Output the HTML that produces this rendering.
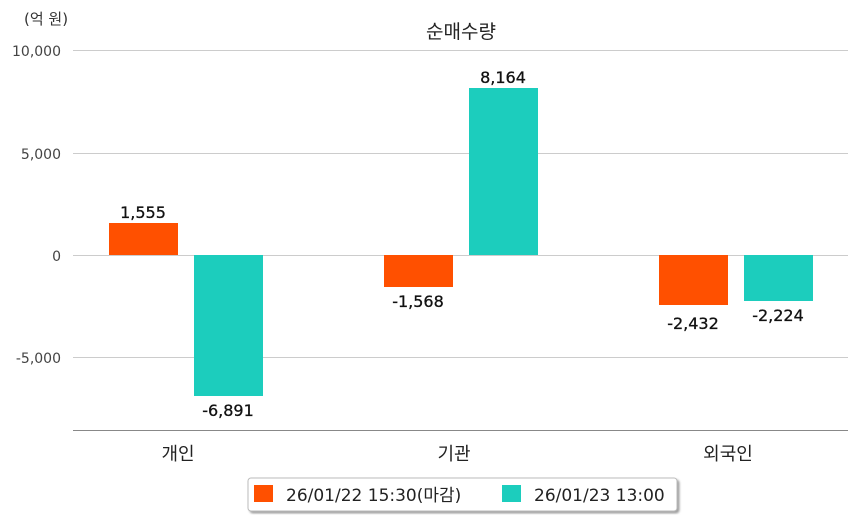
<!DOCTYPE html>
<html><head><meta charset="utf-8"><style>
body{margin:0;background:#fff}
svg text{font-family:"DejaVu Sans","Noto Sans CJK KR",sans-serif}
</style></head><body>
<svg width="858" height="520" xmlns="http://www.w3.org/2000/svg">
<defs><filter id="sh"><feDropShadow dx="2" dy="2" stdDeviation="1" flood-color="#888" flood-opacity="0.8"/></filter></defs>
<text x="24" y="24" font-size="15" fill="#333">(억 원)</text>
<text x="461" y="38" font-size="19" text-anchor="middle" fill="#222">순매수량</text>
<g stroke="#ccc" stroke-width="1">
<line x1="73" y1="50.5" x2="848" y2="50.5"/>
<line x1="73" y1="153.5" x2="848" y2="153.5"/>
<line x1="73" y1="255.5" x2="848" y2="255.5"/>
<line x1="73" y1="357.5" x2="848" y2="357.5"/>
</g>
<line x1="73" y1="430.5" x2="848" y2="430.5" stroke="#888"/>
<g font-size="14" fill="#444" text-anchor="end">
<text x="61" y="56">10,000</text>
<text x="61" y="159">5,000</text>
<text x="61" y="261">0</text>
<text x="61" y="363">-5,000</text>
</g>
<rect x="109" y="223" width="69" height="32" fill="#ff5000"/>
<rect x="194" y="255" width="69" height="141" fill="#1ccdbd"/>
<rect x="384" y="255" width="69" height="32" fill="#ff5000"/>
<rect x="469" y="88" width="69" height="167" fill="#1ccdbd"/>
<rect x="659" y="255" width="69" height="50" fill="#ff5000"/>
<rect x="744" y="255" width="69" height="46" fill="#1ccdbd"/>
<g font-size="16" fill="#111" text-anchor="middle" stroke="#111" stroke-width="0.3">
<text x="143" y="218">1,555</text>
<text x="228" y="416">-6,891</text>
<text x="418" y="307">-1,568</text>
<text x="503" y="83">8,164</text>
<text x="693" y="329">-2,432</text>
<text x="778" y="321">-2,224</text>
</g>
<g font-size="18" fill="#222" text-anchor="middle">
<text x="178" y="460">개인</text>
<text x="454" y="460">기관</text>
<text x="728" y="460">외국인</text>
</g>
<rect x="248" y="478" width="429" height="33" rx="3" fill="#fff" stroke="#bbb" filter="url(#sh)"/>
<rect x="254" y="485" width="19" height="17" fill="#ff5000"/>
<text x="286" y="501" font-size="17" fill="#222">26/01/22 15:30(마감)</text>
<rect x="502" y="485" width="19" height="17" fill="#1ccdbd"/>
<text x="534" y="501" font-size="17" fill="#222">26/01/23 13:00</text>
</svg>
</body></html>
